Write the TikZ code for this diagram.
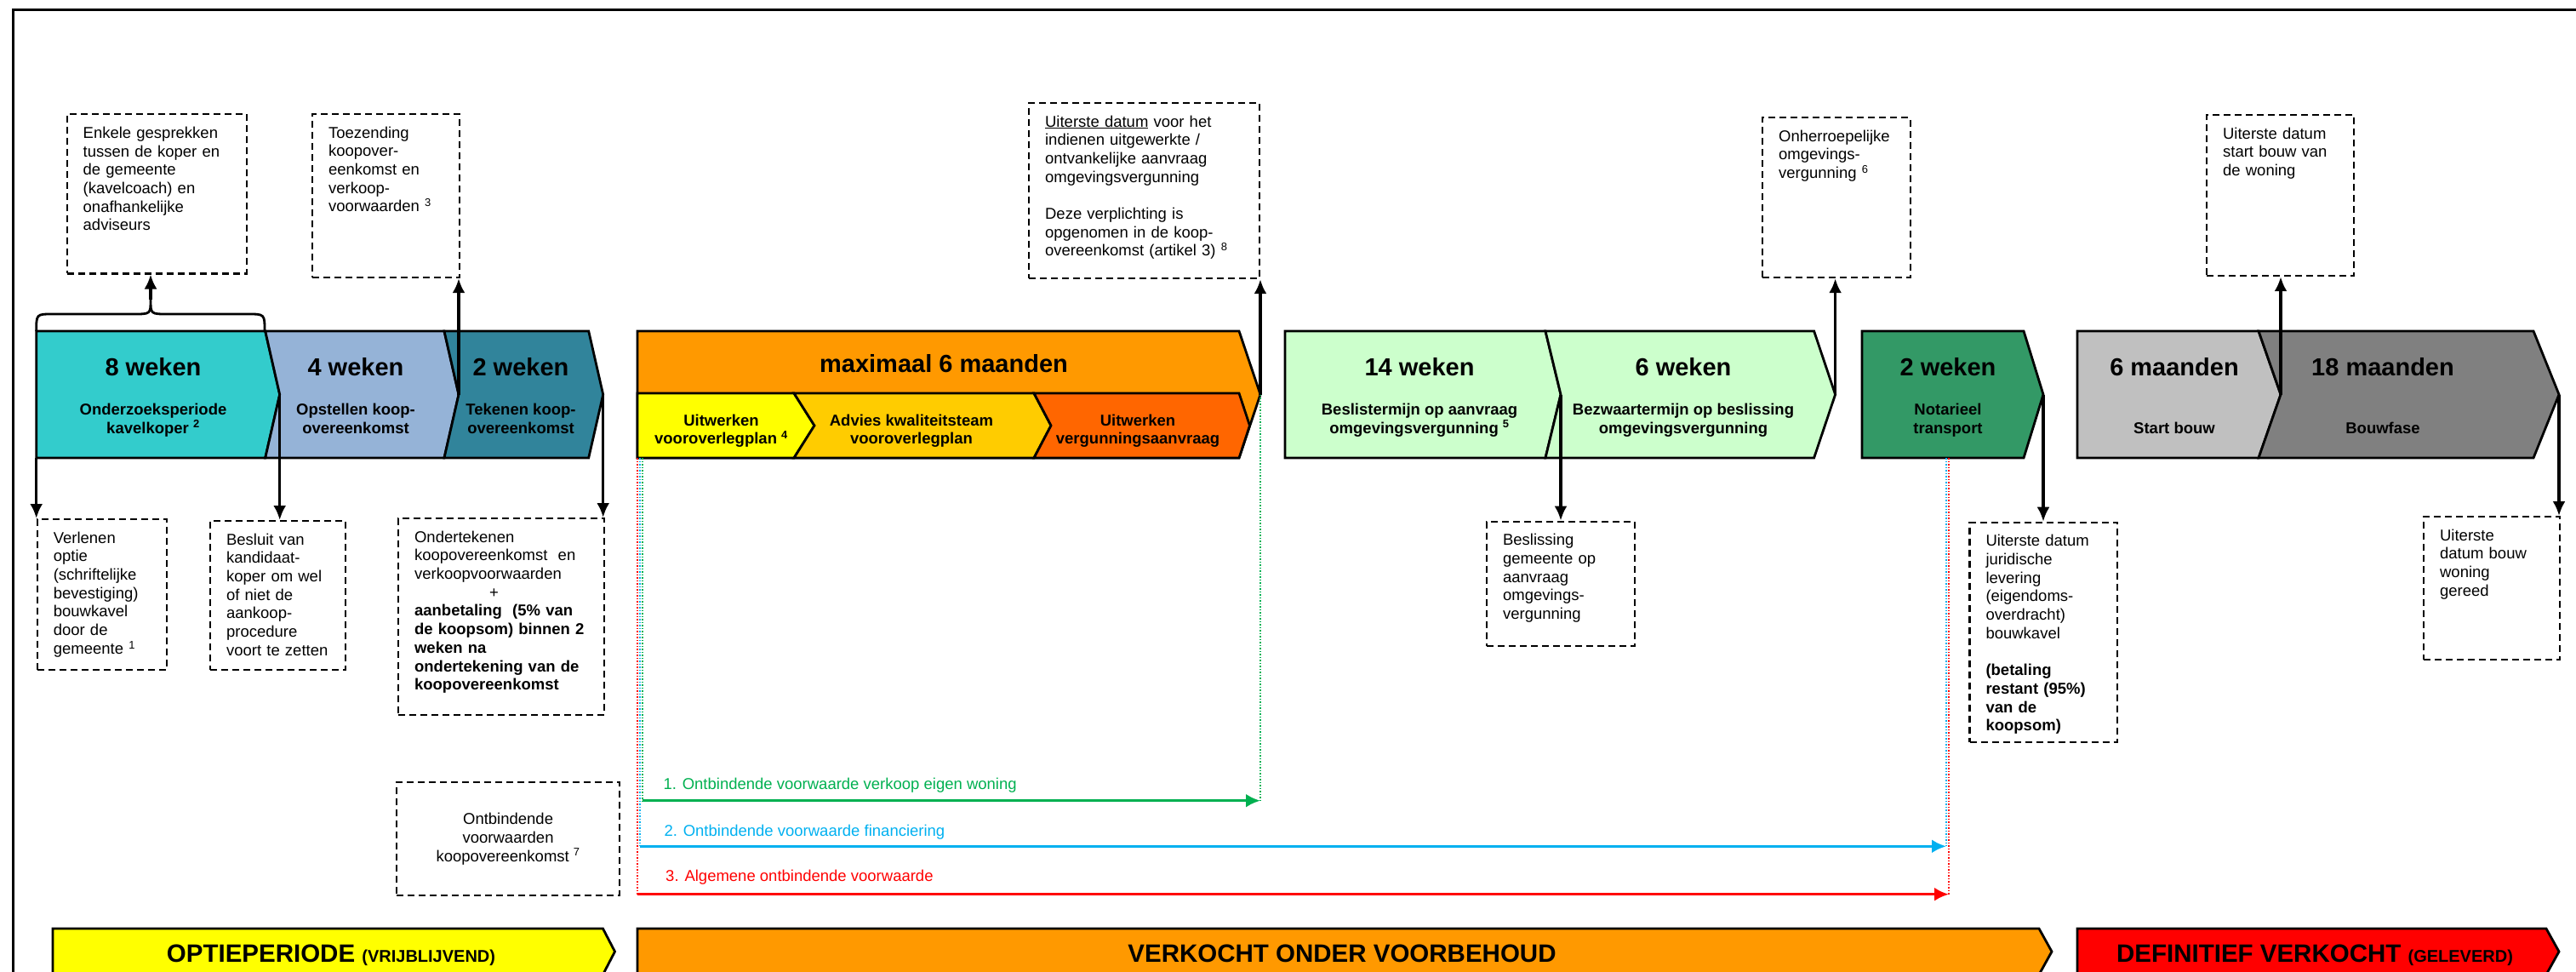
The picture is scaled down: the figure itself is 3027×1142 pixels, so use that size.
\documentclass[tikz,border=0pt]{standalone}
\usepackage{fontspec}
\setmainfont{Liberation Sans}
\usetikzlibrary{arrows.meta}
\definecolor{cTeal}{HTML}{33CCCC}
\definecolor{cSky}{HTML}{95B3D7}
\definecolor{cPetrol}{HTML}{31849B}
\definecolor{cOrange}{HTML}{FF9900}
\definecolor{cYellow}{HTML}{FFFF00}
\definecolor{cGold}{HTML}{FFCC00}
\definecolor{cRust}{HTML}{FF6600}
\definecolor{cMint}{HTML}{CCFFCC}
\definecolor{cSea}{HTML}{339966}
\definecolor{cSilver}{HTML}{C0C0C0}
\definecolor{cGrey}{HTML}{808080}
\definecolor{cGreen}{HTML}{00B050}
\definecolor{cBlue}{HTML}{00B0F0}
\definecolor{cRed}{HTML}{FF0000}
\tikzset{arrow/.style={-{Latex[length=17pt,width=15pt]}, line width=3.2pt}}
\tikzset{cond-arrow/.style={-{Latex[length=17pt,width=16pt]}, line width=3.5pt}}
\tikzset{dotted-line/.style={dotted, line width=1.5pt}}
\tikzset{dashbox/.style={draw, dash pattern=on 8pt off 5pt, line width=2.2pt, font=\fontsize{18.5}{21.7}\selectfont}}
\tikzset{notebox/.style={dashbox, anchor=north west, align=left, inner xsep=19pt, inner ysep=13pt, text height=15pt}}
\tikzset{chevron-title/.style={anchor=base, font=\fontsize{29}{34}\selectfont\bfseries}}
\tikzset{chevron-text/.style={anchor=base, align=center, font=\fontsize{18.5}{21.5}\selectfont\bfseries}}
\tikzset{phase-text/.style={anchor=base, font=\fontsize{29.5}{34}\selectfont\bfseries}}
\tikzset{cond-text/.style={anchor=base west, font=\fontsize{18.5}{21.7}\selectfont}}
% fill, left x, notch, right x, tip, top y, bottom y
\newcommand{\chevron}[7]{%
  \filldraw[fill=#1, line width=2.8pt] (#2,#6) -- (#4,#6) -- ({#4+#5},{(#6+#7)/2})
    -- (#4,#7) -- (#2,#7) -- ({#2+#3},{(#6+#7)/2}) -- cycle;}

\begin{document}
\begin{tikzpicture}[x=1pt,y=-1pt]
      \useasboundingbox (0,0) rectangle (3027,1142);
      \clip (0,0) rectangle (3027,1142);
      \draw[line width=3pt] (15,12) rectangle (3200,1300);

      % phases on top
      \chevron{cTeal}{42.7}{0}{311.7}{17}{389}{538}
      \chevron{cSky}{311.7}{17}{522}{17}{389}{538}
      \chevron{cPetrol}{522}{17}{691.7}{17}{389}{538}
      \chevron{cOrange}{749}{0}{1456}{25}{389}{538}
      \chevron{cYellow}{749}{0}{933}{24}{462}{538}
      \chevron{cGold}{933}{24}{1215}{20}{462}{538}
      \chevron{cRust}{1215}{20}{1456}{12.5}{462}{538}
      \chevron{cMint}{1510}{0}{1816}{18}{389}{538}
      \chevron{cMint}{1816}{18}{2131.6}{25}{389}{538}
      \chevron{cSea}{2188}{0}{2378}{23}{389}{538}
      \chevron{cSilver}{2441}{0}{2654}{26}{389}{538}
      \chevron{cGrey}{2654}{26}{2977}{30}{389}{538}

      % phases at the bottom
      \chevron{cYellow}{62}{0}{708.5}{14}{1091}{1145}
      \chevron{cOrange}{749}{0}{2396}{15}{1091}{1145}
      \chevron{cRed}{2441}{0}{2992}{15}{1091}{1145}

      \coordinate (c1) at (42.7,538);
      \coordinate (tipA) at (328.7,463.5);
      \coordinate (tipB) at (539,463.5);
      \coordinate (tipC) at (708.7,463.5);
      \coordinate (tipO) at (1481,463.5);
      \coordinate (tipD) at (1834,463.5);
      \coordinate (tipE) at (2156.6,463.5);
      \coordinate (tipF) at (2401,463.5);
      \coordinate (tipG) at (2680,463.5);
      \coordinate (tipH) at (3007,463.5);
      \coordinate (braceTip) at (177,352);

      \node[chevron-title] (t8w) at (180,441.7) {8 weken};
      \node[chevron-text] (s8w) at (180,509) {Onderzoeksperiode\\ kavelkoper \textsuperscript{2}};
      \node[chevron-title] (t4w) at (418,441.7) {4 weken};
      \node[chevron-text] (s4w) at (418,509) {Opstellen koop-\\ overeenkomst};
      \node[chevron-title] (t2w) at (612,441.7) {2 weken};
      \node[chevron-text] (s2w) at (612,509) {Tekenen koop-\\ overeenkomst};
      \node[chevron-title] (t6m) at (1109,437) {maximaal 6 maanden};
      \node[chevron-text] (sPlan) at (847.5,521.7) {Uitwerken\\ vooroverlegplan \textsuperscript{4}};
      \node[chevron-text] (sAdvies) at (1071,521.7) {Advies kwaliteitsteam\\ vooroverlegplan};
      \node[chevron-text] (sAanvr) at (1337,521.7) {Uitwerken\\ vergunningsaanvraag};
      \node[chevron-title] (t14w) at (1668,441.7) {14 weken};
      \node[chevron-text] (s14w) at (1668,509) {Beslistermijn op aanvraag\\ omgevingsvergunning \textsuperscript{5}};
      \node[chevron-title] (t6w) at (1978,441.7) {6 weken};
      \node[chevron-text] (s6w) at (1978,509) {Bezwaartermijn op beslissing\\ omgevingsvergunning};
      \node[chevron-title] (tNot) at (2289,441.7) {2 weken};
      \node[chevron-text] (sNot) at (2289,509) {Notarieel\\ transport};
      \node[chevron-title] (tStart) at (2555,441.7) {6 maanden};
      \node[chevron-text] (sStart) at (2555,509.3) {Start bouw};
      \node[chevron-title] (tBouw) at (2800,441.7) {18 maanden};
      \node[chevron-text] (sBouw) at (2800,509.3) {Bouwfase};

      \node[phase-text] (pOptie) at (389,1130) {OPTIEPERIODE {\fontsize{20}{24}\selectfont (VRIJBLIJVEND)}};
      \node[phase-text] (pVoorb) at (1577,1130) {VERKOCHT ONDER VOORBEHOUD};
      \node[phase-text] (pDef) at (2720,1130) {DEFINITIEF VERKOCHT {\fontsize{20}{24}\selectfont (GELEVERD)}};

      % notes above
      \node[notebox, text width=173pt, text depth=146pt] (nEnkele) at (77.6,133.3) {Enkele gesprekken\\ tussen de koper en\\ de gemeente\\ (kavelcoach) en\\ onafhankelijke\\ adviseurs};
      \node[notebox, text width=135pt, text depth=151pt] (nToez) at (366,133) {Toezending\\ koopover-\\ eenkomst en\\ verkoop-\\ voorwaarden \textsuperscript{3}};
      \node[notebox, text width=233pt, text depth=165pt] (nUiterste) at (1208,120) {\underline{Uiterste datum} voor het\\ indienen uitgewerkte /\\ ontvankelijke aanvraag\\ omgevingsvergunning\\[21.7pt] Deze verplichting is\\ opgenomen in de koop-\\ overeenkomst (artikel 3) \textsuperscript{8}};
      \node[notebox, text width=135.5pt, text depth=147pt] (nOnherr) at (2070,137) {Onherroepelijke\\ omgevings-\\ vergunning \textsuperscript{6}};
      \node[notebox, text width=135pt, text depth=148pt] (nStart) at (2592,134) {Uiterste datum\\ start bouw van\\ de woning};

      % notes below
      \node[notebox, text width=114pt, text depth=136pt] (nVerl) at (42.7,609) {Verlenen\\ optie\\ (schriftelijke\\ bevestiging)\\ bouwkavel\\ door de\\ gemeente \textsuperscript{1}};
      \node[notebox, text width=121pt, text depth=134pt] (nBesluit) at (246,611) {Besluit van\\ kandidaat-\\ koper om wel\\ of niet de\\ aankoop-\\ procedure\\ voort te zetten};
      \node[notebox, text width=204pt, text depth=190pt] (nOnder) at (467,608) {Ondertekenen\\ koopovereenkomst\ \ en\\ verkoopvoorwaarden\\ \hspace*{88pt}+\\ \bfseries aanbetaling\ \ (5\% van\\ de koopsom) binnen 2\\ weken na\\ ondertekening van de\\ koopovereenkomst};
      \node[dashbox, anchor=north west, align=center, minimum width=262pt, minimum height=133pt] (nOntb) at (465,918) {Ontbindende\\ voorwaarden\\ koopovereenkomst \textsuperscript{7}};
      \node[notebox, text width=136pt, text depth=105pt] (nBesl) at (1746,611.6) {Beslissing\\ gemeente op\\ aanvraag\\ omgevings-\\ vergunning};
      \node[notebox, text width=135.6pt, text depth=217pt] (nJurid) at (2313.4,612.7) {Uiterste datum\\ juridische\\ levering\\ (eigendoms-\\ overdracht)\\ bouwkavel\\[21.7pt] \bfseries (betaling\\ restant (95\%)\\ van de\\ koopsom)};
      \node[notebox, text width=122pt, text depth=127pt] (nGereed) at (2847,606) {Uiterste\\ datum bouw\\ woning\\ gereed};

      % brace over the first phase
      \draw[line width=2.8pt] (42.7,389) .. controls (42.7,369) .. (62,369) -- (157,369)
        .. controls (177,369) .. (braceTip) .. controls (177,369) .. (197,369) -- (291,369)
        .. controls (311,369) .. (311,389);

      \draw[arrow] (braceTip) -- (braceTip |- nEnkele.south);
      \draw[arrow] (tipB) -- (tipB |- nToez.south);
      \draw[arrow] (tipO) -- (tipO |- nUiterste.south);
      \draw[arrow] (tipE) -- (tipE |- nOnherr.south);
      \draw[arrow] (tipG) -- (tipG |- nStart.south);
      \draw[arrow] (c1) -- (c1 |- nVerl.north);
      \draw[arrow] (tipA) -- (tipA |- nBesluit.north);
      \draw[arrow] (tipC) -- (tipC |- nOnder.north);
      \draw[arrow] (tipD) -- (tipD |- nBesl.north);
      \draw[arrow] (tipF) -- (tipF |- nJurid.north);
      \draw[arrow] (tipH) -- (tipH |- nGereed.north);

      % ontbindende voorwaarden
      \coordinate (gTop) at (755,538);
      \coordinate (gLeft) at (755,940.7);
      \coordinate (gEnd) at (1481,940.7);
      \coordinate (bTop) at (752,538);
      \coordinate (bLeft) at (752,994.3);
      \coordinate (bEnd) at (2287,994.3);
      \coordinate (bRight) at (2287,538);
      \coordinate (rTop) at (749,538);
      \coordinate (rLeft) at (749,1050.7);
      \coordinate (rEnd) at (2290,1050.7);
      \coordinate (rRight) at (2290,538);

      \draw[dotted-line, cRed] (rTop) -- (rLeft);
      \draw[dotted-line, cRed] (rRight) -- (rEnd);
      \draw[dotted-line, cBlue] (bTop) -- (bLeft);
      \draw[dotted-line, cBlue] (bRight) -- (bEnd);
      \draw[dotted-line, cGreen] (gTop) -- (gLeft);
      \draw[dotted-line, cGreen] (tipO) -- (gEnd);
      \draw[cond-arrow, cGreen] (gLeft) -- (gEnd);
      \draw[cond-arrow, cBlue] (bLeft) -- (bEnd);
      \draw[cond-arrow, cRed] (rLeft) -- (rEnd);

      \node[cond-text, cGreen] (vw1) at (776,927) {1. Ontbindende voorwaarde verkoop eigen woning};
      \node[cond-text, cBlue] (vw2) at (777,982) {2. Ontbindende voorwaarde financiering};
      \node[cond-text, cRed] (vw3) at (778.7,1035.7) {3. Algemene ontbindende voorwaarde};
    \end{tikzpicture}
\end{document}
